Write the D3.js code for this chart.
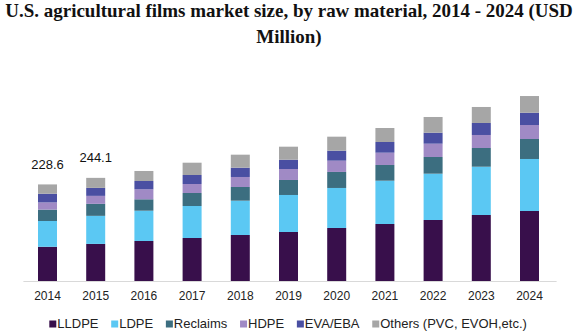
<!DOCTYPE html>
<html>
<head>
<meta charset="utf-8">
<script src="https://cdn.jsdelivr.net/npm/d3@7"></script>
<style>
  html, body { margin: 0; padding: 0; background: #fff; }
  svg { display: block; }
</style>
</head>
<body>
<svg id="chart" width="578" height="336"></svg>
<script>
const years = ["2014","2015","2016","2017","2018","2019","2020","2021","2022","2023","2024"];
const lldpe    = [81.0, 87.8, 94.7, 101.8, 108.9, 116.0, 125.5, 134.9, 144.4, 156.2, 165.7];
const ldpe     = [61.0, 66.4, 71.7, 75.7, 81.2, 87.6, 94.7, 102.5, 109.6, 114.3, 123.1];
const reclaims = [27.0, 28.4, 27.0, 30.8, 32.4, 35.5, 37.9, 37.2, 39.5, 44.3, 47.3];
const hdpe     = [17.0, 18.9, 23.7, 21.3, 23.7, 26.0, 26.7, 29.1, 31.5, 30.8, 33.1];
const evaEba   = [20.6, 18.9, 19.6, 21.3, 22.0, 22.0, 23.7, 25.3, 26.0, 28.4, 29.1];
const others   = [22.0, 23.7, 23.7, 29.1, 30.8, 30.8, 33.1, 33.1, 37.2, 37.9, 39.5];
const seriesNames = ["LLDPE", "LDPE", "Reclaims", "HDPE", "EVA/EBA", "Others (PVC, EVOH,etc.)"];
const seriesColors = ["#380f4b", "#5bc8f3", "#3c6e80", "#a08ac5", "#4a4fa2", "#a6a6a6"];
const labeledYears = ["2014", "2015"];
const titleLines = ["U.S. agricultural films market size, by raw material, 2014 - 2024 (USD", "Million)"];

const seriesValues = [lldpe, ldpe, reclaims, hdpe, evaEba, others];
const table = years.map((yr, i) => {
  const row = { year: yr };
  seriesNames.forEach((n, s) => row[n] = seriesValues[s][i]);
  return row;
});

const svg = d3.select("#chart");
const W = 578;

// Title
const title = svg.append("g").attr("font-family", "'Liberation Serif', 'Times New Roman', serif")
  .attr("font-weight", "bold").attr("fill", "#111");
const t1 = title.append("text").attr("x", W/2).attr("y", 17).attr("text-anchor", "middle")
  .attr("font-size", 18).text(titleLines[0]);
let len = t1.node().getComputedTextLength();
const fs = 18 * 568 / len;
t1.attr("font-size", fs);
title.append("text").attr("x", W/2).attr("y", 43).attr("text-anchor", "middle")
  .attr("font-size", fs).text(titleLines[1]);

// Scales
const x = d3.scaleBand().domain(years).range([23.4, 553.6]).paddingInner(0.606).paddingOuter(0.303);
const y = d3.scaleLinear().domain([0, 400]).range([281, 281 - 400 * 0.4225]);

const stack = d3.stack().keys(seriesNames);
const stacked = stack(table);

svg.append("g").selectAll("g").data(stacked).join("g")
  .attr("fill", (d, i) => seriesColors[i])
  .selectAll("rect").data(d => d).join("rect")
  .attr("x", d => x(d.data.year))
  .attr("width", x.bandwidth())
  .attr("y", d => y(d[1]))
  .attr("height", d => y(d[0]) - y(d[1]));

// Axis
const xAxis = svg.append("g").attr("transform", `translate(0,${y(0)})`)
  .call(d3.axisBottom(x).tickSize(0).tickPadding(10));
xAxis.select(".domain").attr("stroke", "#d9d9d9").attr("d", `M${x.range()[0]},0.5H${x.range()[1] + 3}`);
xAxis.selectAll("text").attr("font-family", "'Liberation Sans', Arial, sans-serif")
  .attr("font-size", 12).attr("fill", "#222");

// Value labels
const totals = years.map((yr, i) => seriesValues.reduce((a, s) => a + s[i], 0));
svg.append("g").selectAll("text").data(labeledYears).join("text")
  .attr("x", d => x(d) + x.bandwidth() / 2)
  .attr("y", d => y(totals[years.indexOf(d)]) - 15.5)
  .attr("text-anchor", "middle")
  .attr("font-family", "'Liberation Sans', Arial, sans-serif")
  .attr("font-size", 13).attr("fill", "#111")
  .text(d => totals[years.indexOf(d)].toFixed(1));

// Legend
const legend = svg.append("g").attr("font-family", "'Liberation Sans', Arial, sans-serif")
  .attr("font-size", 13).attr("fill", "#222");
let lx = 49.3;
seriesNames.forEach((n, i) => {
  legend.append("rect").attr("x", lx).attr("y", 320.5).attr("width", 7).attr("height", 7)
    .attr("fill", seriesColors[i]);
  const t = legend.append("text").attr("x", lx + 8).attr("y", 328).text(n);
  lx += 8 + t.node().getComputedTextLength() + 12.7;
});
</script>
</body>
</html>
